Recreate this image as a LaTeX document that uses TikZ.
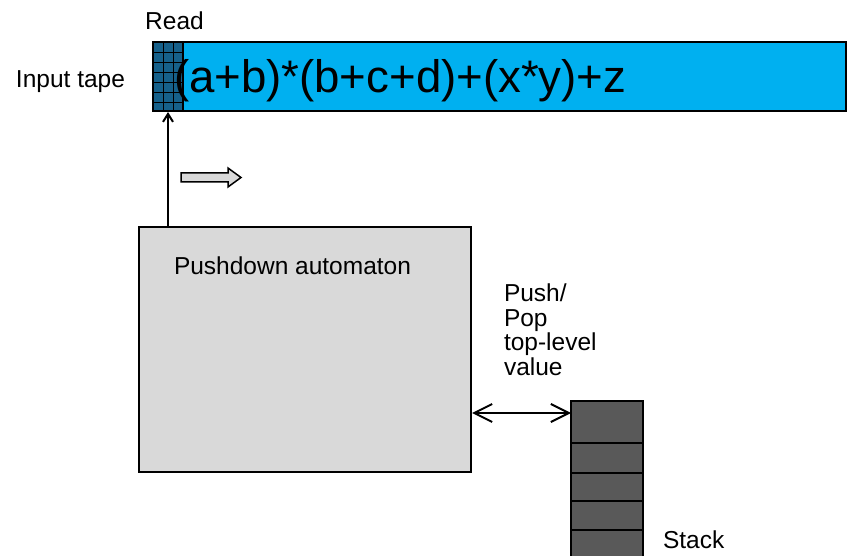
\documentclass[tikz,border=0pt]{standalone}
\usepackage{fontspec}
\setmainfont{Liberation Sans}
\usetikzlibrary{arrows.meta}
\definecolor{tapeblue}{RGB}{0,176,240}
\definecolor{headblue}{RGB}{22,96,138}
\definecolor{pdagray}{RGB}{217,217,217}
\definecolor{stackgray}{RGB}{89,89,89}

\begin{document}
\begin{tikzpicture}[x=0.5pt, y=-0.5pt, line width=1pt,
    lbl/.style={font=\fontsize{12.25}{12.25}\selectfont, inner sep=0pt},
    box/.style={draw, rectangle, inner sep=0pt}]
        \useasboundingbox (0,0) rectangle (847,556);

        % Tape
        \node[box, fill=tapeblue, minimum width=346.5pt, minimum height=34.5pt] (tape) at (499.5,76.5) {};
        \node[box, fill=headblue, minimum width=15pt, minimum height=34.5pt] (head) at (168,76.5) {};
        \foreach \gx in {163,173} \draw[thin] (\gx,42) -- (\gx,111);
        \foreach \gy in {52,62,...,102} \draw[thin] (153,\gy) -- (183,\gy);
        \node[anchor=base west, inner sep=0pt, font=\fontsize{22.8}{22.8}\selectfont] (expr) at (173,93) {(a+b)*(b+c+d)+(x*y)+z};

        % Automaton
        \node[box, fill=pdagray, minimum width=166pt, minimum height=122.5pt] (pda) at (305,349.5) {};
        \node[lbl, anchor=base west] (pdalbl) at (173,275) {Pushdown automaton};

        % Stack
        \foreach \ya/\yb in {401/443, 443/473, 473/501, 501/530, 530/570}
            \draw[fill=stackgray] (571,\ya) rectangle (643,\yb);
        \coordinate (stacktop) at (571,413);

        % Arrows
        \draw[-{Straight Barb[length=4pt,width=5pt]}] (head.south |- pda.north) -- (head.south);
        \draw[{Straight Barb[length=9pt,width=9pt]}-{Straight Barb[length=9pt,width=9pt]}] (stacktop -| pda.east) -- (stacktop);
        \draw[fill=pdagray, line width=0.75pt] (181,173) -- (228,173) -- (228,168) -- (241,177.5) -- (228,187) -- (228,182) -- (181,182) -- cycle;

        % Labels
        \node[lbl, anchor=base] (read) at (174.5,30) {Read};
        \node[lbl, anchor=base west] (input) at (15,88) {Input tape};
        \node[lbl, anchor=north west, align=left] (pushpop) at (503,283) {Push/\\Pop\\top-level\\value};
        \node[lbl, anchor=base west] (stacklbl) at (662,548) {Stack};
        
\end{tikzpicture}
\end{document}
